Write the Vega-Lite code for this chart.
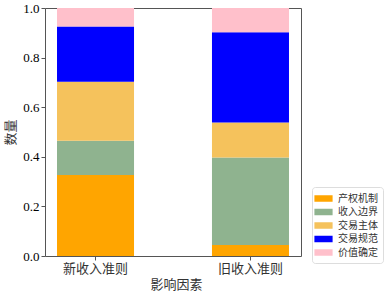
{
  "$schema": "https://vega.github.io/schema/vega-lite/v6.json",
  "width": 256,
  "height": 248,
  "autosize": {"type": "none"},
  "padding": {"left": 45, "top": 8, "right": 87, "bottom": 37},
  "background": "white",
  "config": {
    "font": "Liberation Serif, Noto Sans CJK SC",
    "view": {"stroke": "#555", "strokeWidth": 1}
  },
  "data": {
    "values": [
      {"rule": "新收入准则", "factor": "产权机制", "idx": 0, "value": 0.327},
      {"rule": "新收入准则", "factor": "收入边界", "idx": 1, "value": 0.138},
      {"rule": "新收入准则", "factor": "交易主体", "idx": 2, "value": 0.238},
      {"rule": "新收入准则", "factor": "交易规范", "idx": 3, "value": 0.222},
      {"rule": "新收入准则", "factor": "价值确定", "idx": 4, "value": 0.075},
      {"rule": "旧收入准则", "factor": "产权机制", "idx": 0, "value": 0.044},
      {"rule": "旧收入准则", "factor": "收入边界", "idx": 1, "value": 0.353},
      {"rule": "旧收入准则", "factor": "交易主体", "idx": 2, "value": 0.141},
      {"rule": "旧收入准则", "factor": "交易规范", "idx": 3, "value": 0.364},
      {"rule": "旧收入准则", "factor": "价值确定", "idx": 4, "value": 0.098}
    ]
  },
  "mark": {"type": "bar"},
  "encoding": {
    "x": {
      "field": "rule", "type": "nominal", "sort": ["新收入准则", "旧收入准则"],
      "title": "影响因素",
      "scale": {"paddingInner": 0.503, "paddingOuter": 0.0775},
      "axis": {"labelAngle": 0, "labelFontSize": 13, "titleFontSize": 13, "titleFontWeight": "normal",
               "labelColor": "#333", "titleColor": "#333", "domain": false, "tickColor": "#555", "tickSize": 4,
               "labelPadding": 2, "titlePadding": 3, "titleX": 131}
    },
    "y": {
      "field": "value", "type": "quantitative", "stack": "zero",
      "title": "数量",
      "scale": {"domain": [0, 1], "nice": false},
      "axis": {"values": [0, 0.2, 0.4, 0.6, 0.8, 1.0], "format": ".1f", "grid": false, "domain": false,
               "labelFontSize": 13, "titleFontSize": 13, "titleFontWeight": "normal", "labelColor": "#000",
               "titleColor": "#333", "tickColor": "#555", "tickSize": 4, "labelPadding": 2, "titlePadding": 5}
    },
    "color": {
      "field": "factor", "type": "nominal",
      "scale": {
        "domain": ["产权机制", "收入边界", "交易主体", "交易规范", "价值确定"],
        "range": ["#FFA500", "#8FB38F", "#F5C25C", "#0000FF", "#FFC0CB"]
      },
      "legend": {
        "title": null, "orient": "none", "legendX": 267, "legendY": 179,
        "symbolType": "M-1.4,-0.5H1.4V0.5H-1.4Z", "symbolSize": 169, "symbolStrokeWidth": 0,
        "labelFontSize": 10, "labelColor": "#333", "rowPadding": 1.5, "labelOffset": 8,
        "padding": 5, "strokeColor": "#ddd", "cornerRadius": 3, "fillColor": "white"
      }
    },
    "order": {"field": "idx", "type": "quantitative"}
  }
}
